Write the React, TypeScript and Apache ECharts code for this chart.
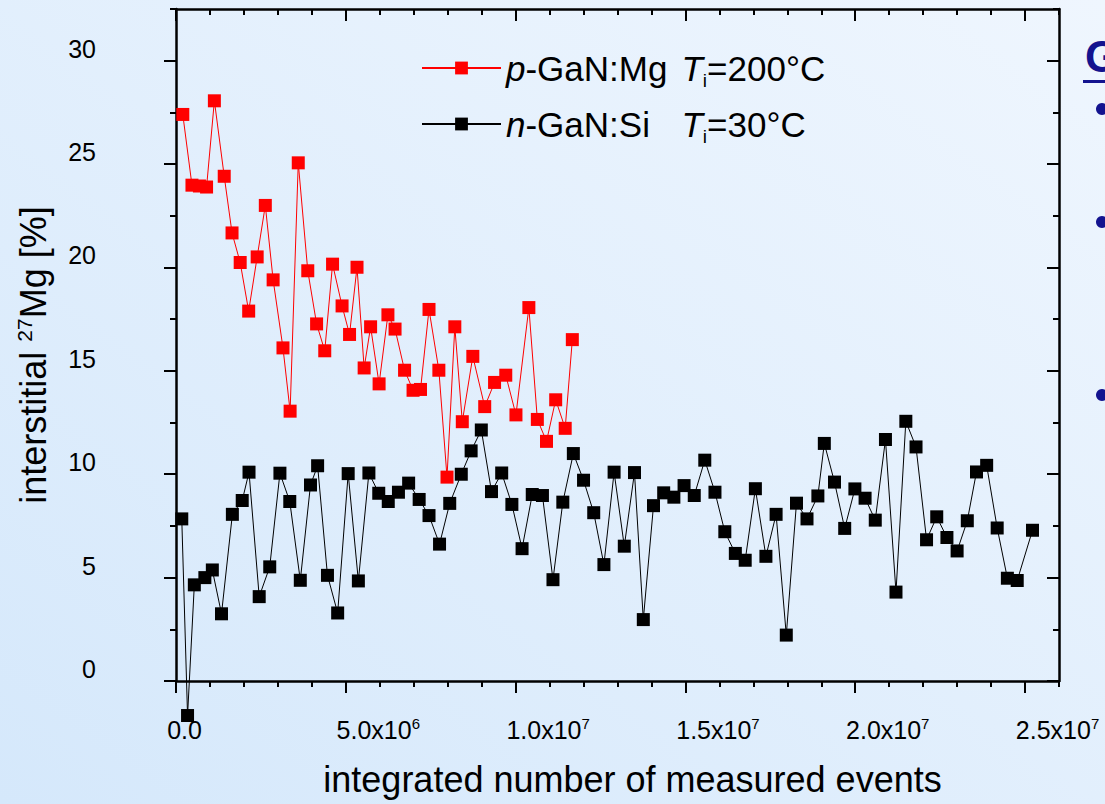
import React, { useEffect, useRef } from 'react';
import * as echarts from 'echarts';

// x values in units of 10^6 events, y values in %
const pX = [0.20, 0.47, 0.69, 0.90, 1.13, 1.42, 1.65, 1.89, 2.14, 2.39, 2.63, 2.86, 3.15, 3.36, 3.60, 3.88, 4.14, 4.38, 4.61, 4.89, 5.11, 5.33, 5.54, 5.73, 5.98, 6.24, 6.45, 6.73, 6.98, 7.20, 7.45, 7.74, 7.98, 8.21, 8.43, 8.74, 9.09, 9.38, 9.71, 10.01, 10.39, 10.64, 10.91, 11.18, 11.46, 11.67];
const pY = [27.4, 23.98, 23.94, 23.89, 28.06, 24.41, 21.67, 20.24, 17.89, 20.51, 23.0, 19.40, 16.11, 13.05, 25.06, 19.84, 17.27, 15.97, 20.16, 18.14, 16.76, 20.01, 15.14, 17.13, 14.37, 17.71, 17.02, 15.03, 14.06, 14.10, 17.97, 15.03, 9.86, 17.13, 12.54, 15.70, 13.27, 14.44, 14.79, 12.87, 18.06, 12.65, 11.59, 13.60, 12.22, 16.51];

const nX = [0.17, 0.34, 0.54, 0.85, 1.07, 1.34, 1.66, 1.95, 2.15, 2.45, 2.76, 3.06, 3.35, 3.66, 3.96, 4.17, 4.46, 4.76, 5.07, 5.37, 5.68, 5.97, 6.25, 6.55, 6.85, 7.16, 7.45, 7.76, 8.06, 8.40, 8.69, 8.99, 9.29, 9.59, 9.89, 10.19, 10.49, 10.79, 11.10, 11.39, 11.70, 12.00, 12.30, 12.60, 12.90, 13.20, 13.50, 13.76, 14.06, 14.36, 14.66, 14.96, 15.26, 15.57, 15.87, 16.16, 16.47, 16.76, 17.06, 17.37, 17.67, 17.97, 18.27, 18.58, 18.90, 19.09, 19.39, 19.69, 19.99, 20.29, 20.59, 20.89, 21.20, 21.49, 21.79, 22.10, 22.40, 22.70, 23.00, 23.30, 23.57, 23.87, 24.18, 24.48, 24.77, 25.22];
const nY = [7.84, -1.67, 4.65, 5.0, 5.37, 3.25, 8.06, 8.73, 10.10, 4.08, 5.52, 10.05, 8.68, 4.87, 9.48, 10.41, 5.11, 3.29, 10.03, 4.84, 10.06, 9.08, 8.68, 9.13, 9.57, 8.78, 8.0, 6.62, 8.59, 10.0, 11.13, 12.14, 9.16, 10.06, 8.54, 6.40, 9.02, 8.97, 4.90, 8.65, 11.0, 9.71, 8.14, 5.63, 10.10, 6.52, 10.08, 2.97, 8.48, 9.10, 8.89, 9.45, 8.97, 10.68, 9.13, 7.22, 6.17, 5.84, 9.30, 6.03, 8.06, 2.22, 8.60, 7.84, 8.95, 11.49, 9.62, 7.38, 9.29, 8.84, 7.78, 11.68, 4.30, 12.56, 11.32, 6.83, 7.94, 6.94, 6.29, 7.75, 10.11, 10.43, 7.40, 4.97, 4.86, 7.29];

const X_TICKS = [0, 5, 10, 15, 20, 25];
const X_TICK_LABELS = ['0.0', '5.0x10^6', '1.0x10^7', '1.5x10^7', '2.0x10^7', '2.5x10^7'];
const Y_TICKS = [0, 5, 10, 15, 20, 25, 30];

const P_NAME = 'p-GaN:Mg Ti=200°C';
const N_NAME = 'n-GaN:Si Ti=30°C';
const LEGEND_RICH: Record<string, string> = {
  [P_NAME]: '{it|p}{nm|-GaN:Mg}{it|T}{sub|i}{t|=200°C}',
  [N_NAME]: '{it|n}{nm|-GaN:Si}{it|T}{sub|i}{t|=30°C}',
};

const FONT = '"Liberation Sans", Arial, sans-serif';

export default function App() {
  const ref = useRef<HTMLDivElement>(null);
  useEffect(() => {
    if (!ref.current) return;
    const chart = echarts.init(ref.current, undefined, { renderer: 'svg' });
    const axisLine = { color: '#000', width: 2.5 };
    const tickLine = { color: '#000', width: 2 };
    const xFormatter = (v: number) => {
      const i = X_TICKS.findIndex((t) => Math.abs(t - v) < 1e-9);
      if (i < 0) return '';
      const lab = X_TICK_LABELS[i];
      if (lab.indexOf('^') < 0) return `{pz| }{b|${lab}}`;
      const [m, e] = lab.split('^');
      return `{pb| }{b|${m}}{s|${e}}`;
    };
    const yFormatter = (v: number) => (Y_TICKS.some((t) => Math.abs(t - v) < 1e-9) ? String(v) : '');
    const xBase = { type: 'value', min: 0, max: 26, splitLine: { show: false } };
    const yBase = { type: 'value', min: 0, max: 32.5, splitLine: { show: false } };
    chart.setOption({
      animation: false,
      backgroundColor: new echarts.graphic.LinearGradient(0, 1, 1, 0, [
        { offset: 0, color: '#d5e8fb' },
        { offset: 1, color: '#eff6fe' },
      ]),
      textStyle: { fontFamily: FONT },
      grid: { left: 176, right: 46, top: 9, bottom: 113, containLabel: false },
      legend: {
        orient: 'vertical',
        left: 416,
        top: 41,
        itemWidth: 79,
        itemHeight: 16,
        itemGap: 12,
        selectedMode: false,
        data: [P_NAME, N_NAME],
        formatter: (name: string) => LEGEND_RICH[name],
        textStyle: {
          fontFamily: FONT,
          fontSize: 35,
          color: '#000',
          lineHeight: 44,
          rich: {
            it: { fontFamily: FONT, fontSize: 35, fontStyle: 'italic', lineHeight: 44, color: '#000' },
            nm: { fontFamily: FONT, fontSize: 35, lineHeight: 44, width: 156, color: '#000' },
            sub: { fontFamily: FONT, fontSize: 19, lineHeight: 14, verticalAlign: 'bottom', color: '#000' },
            t: { fontFamily: FONT, fontSize: 35, lineHeight: 44, color: '#000' },
          },
        },
      },
      xAxis: [
        {
          ...xBase,
          position: 'bottom',
          interval: 5,
          axisLine: { show: true, onZero: false, lineStyle: axisLine },
          axisTick: { show: true, inside: false, length: 12, lineStyle: tickLine, customValues: X_TICKS },
          axisLabel: {
            show: true,
            customValues: X_TICKS,
            formatter: xFormatter,
            margin: 35,
            color: '#000',
            fontFamily: FONT,
            fontSize: 25,
            rich: {
              pz: { width: 17, fontSize: 25, lineHeight: 28 },
              pb: { width: 65, fontSize: 25, lineHeight: 28 },
              b: { fontFamily: FONT, fontSize: 25, lineHeight: 28, color: '#000' },
              s: { fontFamily: FONT, fontSize: 15, lineHeight: 15, verticalAlign: 'top', color: '#000' },
            },
          },
          name: 'integrated number of measured events',
          nameLocation: 'middle',
          nameGap: 78,
          nameTextStyle: { fontFamily: FONT, fontSize: 36, color: '#000', lineHeight: 40, padding: [0, 0, 0, 30] },
        },
        {
          ...xBase,
          position: 'bottom',
          interval: 1,
          axisLine: { show: false, onZero: false },
          axisTick: { show: true, inside: false, length: 6, lineStyle: tickLine },
          axisLabel: { show: false },
        },
        {
          ...xBase,
          position: 'top',
          interval: 5,
          axisLine: { show: true, onZero: false, lineStyle: axisLine },
          axisTick: { show: true, inside: true, length: 12, lineStyle: tickLine, customValues: X_TICKS },
          axisLabel: { show: false },
        },
        {
          ...xBase,
          position: 'top',
          interval: 1,
          axisLine: { show: false, onZero: false },
          axisTick: { show: true, inside: true, length: 6, lineStyle: tickLine },
          axisLabel: { show: false },
        },
      ],
      yAxis: [
        {
          ...yBase,
          position: 'left',
          interval: 5,
          axisLine: { show: true, onZero: false, lineStyle: axisLine },
          axisTick: { show: true, inside: false, length: 12, lineStyle: tickLine, customValues: Y_TICKS },
          axisLabel: {
            show: true,
            customValues: Y_TICKS,
            formatter: yFormatter,
            margin: 80,
            color: '#000',
            fontFamily: FONT,
            fontSize: 25,
            verticalAlign: 'bottom',
            lineHeight: 24,
          },
          name: 'interstitial {sup|27}Mg [%]',
          nameLocation: 'middle',
          nameGap: 124,
          nameRotate: 90,
          nameTextStyle: {
            fontFamily: FONT,
            fontSize: 36,
            color: '#000',
            lineHeight: 38,
            padding: [0, 20, 0, 0],
            rich: {
              sup: { fontFamily: FONT, fontSize: 21, lineHeight: 20, verticalAlign: 'top', color: '#000' },
            },
          },
        },
        {
          ...yBase,
          position: 'left',
          interval: 2.5,
          axisLine: { show: false, onZero: false },
          axisTick: { show: true, inside: false, length: 6, lineStyle: tickLine },
          axisLabel: { show: false },
        },
        {
          ...yBase,
          position: 'right',
          interval: 5,
          axisLine: { show: true, onZero: false, lineStyle: axisLine },
          axisTick: { show: true, inside: true, length: 12, lineStyle: tickLine, customValues: Y_TICKS },
          axisLabel: { show: false },
        },
        {
          ...yBase,
          position: 'right',
          interval: 2.5,
          axisLine: { show: false, onZero: false },
          axisTick: { show: true, inside: true, length: 6, lineStyle: tickLine },
          axisLabel: { show: false },
        },
      ],
      series: [
        {
          name: N_NAME,
          type: 'line',
          xAxisIndex: 0,
          yAxisIndex: 0,
          data: nX.map((x, i) => [x, nY[i]]),
          symbol: 'rect',
          symbolSize: 13,
          clip: false,
          lineStyle: { color: '#000', width: 1 },
          itemStyle: { color: '#000' },
          z: 3,
        },
        {
          name: P_NAME,
          type: 'line',
          xAxisIndex: 0,
          yAxisIndex: 0,
          data: pX.map((x, i) => [x, pY[i]]),
          symbol: 'rect',
          symbolSize: 13,
          clip: false,
          lineStyle: { color: '#ff0000', width: 1 },
          itemStyle: { color: '#ff0000' },
          z: 4,
        },
      ],
      graphic: [
        {
          type: 'text',
          left: 1085,
          top: 34,
          style: { text: 'G', fontFamily: FONT, fontSize: 44, fontWeight: 'bold', fill: '#13138f' },
        },
        { type: 'rect', shape: { x: 1083, y: 80, width: 30, height: 3 }, style: { fill: '#13138f' } },
        { type: 'circle', shape: { cx: 1102, cy: 109, r: 6 }, style: { fill: '#13138f' } },
        { type: 'circle', shape: { cx: 1102, cy: 222, r: 6 }, style: { fill: '#13138f' } },
        { type: 'circle', shape: { cx: 1102, cy: 395, r: 6 }, style: { fill: '#13138f' } },
      ],
    });
    return () => chart.dispose();
  }, []);
  return <div ref={ref} style={{ position: 'fixed', left: 0, top: 0, width: 1105, height: 804 }} />;
}
